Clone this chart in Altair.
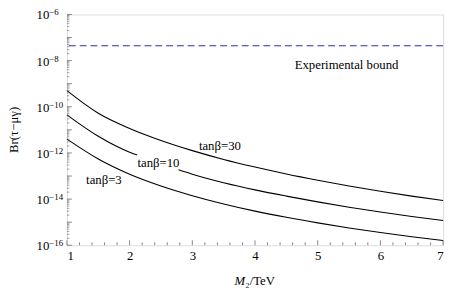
import altair as alt
import pandas as pd

# M2 in TeV and log10(Br)
m2 = [1, 1.5, 2, 2.5, 3, 3.5, 4, 4.5, 5, 5.5, 6, 6.5, 7]
log_br_tb30 = [-9.30, -10.28, -10.94, -11.46, -11.90, -12.28, -12.61, -12.91, -13.18, -13.43, -13.66, -13.87, -14.06]
log_br_tb3 = [-11.40, -12.26, -12.92, -13.43, -13.85, -14.21, -14.52, -14.79, -15.03, -15.25, -15.45, -15.63, -15.79]
m2_tb10 = [1, 1.5, 2, 2.12, 2.78, 3, 3.5, 4, 4.5, 5, 5.5, 6, 6.5, 7]
log_br_tb10 = [-10.35, -11.28, -11.97, -12.09, -12.73, -12.92, -13.29, -13.60, -13.87, -14.12, -14.35, -14.56, -14.75, -14.93]
seg_tb10 = ["a", "a", "a", "a", "b", "b", "b", "b", "b", "b", "b", "b", "b", "b"]

bound = [4.4e-8]

label_text = ["tanβ=30", "tanβ=10", "tanβ=3", "Experimental bound"]
label_x = [3.44, 2.46, 1.59, 5.46]
label_logy = [-11.69, -12.45, -13.17, -8.18]

x_major = [1, 2, 3, 4, 5, 6, 7]
x_minor = [round(1 + 0.2 * i, 2) for i in range(31) if i % 5 != 0]
y_major = [10.0 ** e for e in range(-16, -5)]
y_minor = [k * 10.0 ** e for e in range(-16, -6) for k in range(2, 10)]
y_label_exp = [-6, -8, -10, -12, -14, -16]
y_label_sup = ["−6", "−8", "−10", "−12", "−14", "−16"]

rows = []
for x, ly in zip(m2, log_br_tb30):
    rows.append({"m2": x, "br": 10 ** ly, "series": "30", "seg": "30a"})
for x, ly, s in zip(m2_tb10, log_br_tb10, seg_tb10):
    rows.append({"m2": x, "br": 10 ** ly, "series": "10", "seg": "10" + s})
for x, ly in zip(m2, log_br_tb3):
    rows.append({"m2": x, "br": 10 ** ly, "series": "3", "seg": "3a"})
df = pd.DataFrame(rows)

labels = pd.DataFrame({"text": label_text, "m2": label_x, "br": [10 ** v for v in label_logy]})
ylab = pd.DataFrame({"br": [10.0 ** e for e in y_label_exp], "base": ["10"] * 6, "sup": y_label_sup})

W, H = 383, 235
FONT = "Liberation Serif, Times New Roman, serif"

xs = alt.Scale(domain=[1, 7], nice=False)
ys = alt.Scale(type="log", domain=[1e-16, 1e-6], nice=False)
x_axis = alt.Axis(values=x_major, format="d", title=None, ticks=False, domain=False, grid=False,
                  labelFont=FONT, labelFontSize=13, labelColor="black", labelPadding=5)


def X():
    return alt.X("m2:Q", scale=xs, axis=x_axis)


def Y():
    return alt.Y("br:Q", scale=ys, axis=None)


curves = alt.Chart(df).mark_line(color="black", strokeWidth=1.1, interpolate="monotone").encode(
    x=X(), y=Y(), detail="seg:N")

bound_line = alt.Chart(pd.DataFrame({"br": bound})).mark_rule(
    color="#2e2eb0", strokeWidth=1.2, strokeDash=[7, 4]
).encode(y=Y())

text = alt.Chart(labels).mark_text(font=FONT, fontSize=13, color="black").encode(
    x=X(), y=Y(), text="text:N")

ylab_base = alt.Chart(ylab).mark_text(font=FONT, fontSize=13, color="black", align="right",
                                      baseline="middle", dy=1).encode(
    y=Y(), x=alt.value(-18), text="base:N")
ylab_sup = alt.Chart(ylab).mark_text(font=FONT, fontSize=9, color="black", align="left",
                                     baseline="middle", dy=-2).encode(
    y=Y(), x=alt.value(-18), text="sup:N")

tick_color = "#666666"
xt_major = alt.Chart(pd.DataFrame({"m2": x_major})).mark_rule(color=tick_color, strokeWidth=0.8).encode(
    x=X(), y=alt.value(H), y2=alt.value(H - 5))
xt_minor = alt.Chart(pd.DataFrame({"m2": x_minor})).mark_rule(color=tick_color, strokeWidth=0.8).encode(
    x=X(), y=alt.value(H), y2=alt.value(H - 3))
yt_major = alt.Chart(pd.DataFrame({"br": y_major})).mark_rule(color=tick_color, strokeWidth=0.8).encode(
    y=Y(), x=alt.value(0), x2=alt.value(5))
yt_minor = alt.Chart(pd.DataFrame({"br": y_minor})).mark_rule(color=tick_color, strokeWidth=0.6).encode(
    y=Y(), x=alt.value(0), x2=alt.value(2.5))

xtitle_m = alt.Chart(pd.DataFrame({"t": ["M"]})).mark_text(
    font=FONT, fontSize=13, fontStyle="italic", align="right", color="black"
).encode(text="t:N", x=alt.value(W / 2 - 10), y=alt.value(H + 36))
xtitle_rest = alt.Chart(pd.DataFrame({"t": ["₂/TeV"]})).mark_text(
    font=FONT, fontSize=13, align="left", color="black"
).encode(text="t:N", x=alt.value(W / 2 - 10), y=alt.value(H + 36))
ytitle = alt.Chart(pd.DataFrame({"t": ["Br(τ−μγ)"]})).mark_text(
    font=FONT, fontSize=13, angle=270, color="black"
).encode(text="t:N", x=alt.value(-54), y=alt.value(H / 2))

chart = alt.layer(
    bound_line, curves, text, ylab_base, ylab_sup, xt_major, xt_minor, yt_major, yt_minor,
    xtitle_m, xtitle_rest, ytitle
).properties(
    width=W, height=H, autosize=alt.AutoSizeParams(type="none"),
    padding={"left": 60, "top": 4, "right": 6, "bottom": 45}
).configure_view(stroke="#888888", strokeWidth=1).configure(background="white")

chart.save("out.html", embed_options={"renderer": "svg", "actions": False})
